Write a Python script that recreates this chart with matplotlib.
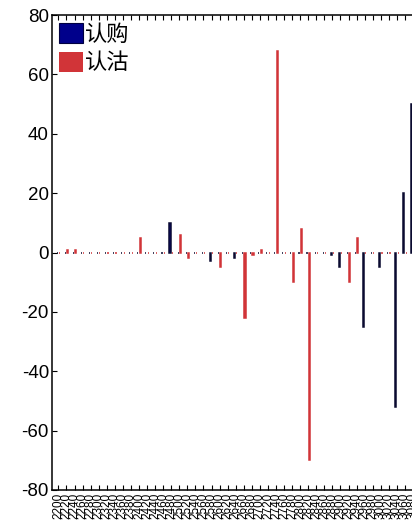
import matplotlib
matplotlib.use("Agg")
import matplotlib.pyplot as plt
import numpy as np

plt.rcParams['font.family'] = ['Liberation Sans', 'Noto Sans CJK SC', 'DejaVu Sans']
plt.rcParams['axes.unicode_minus'] = False

############## Daten ##############
strikes = ["2200", "2220", "2240", "2260", "2280", "2300", "2320", "2340", "2360", "2380",
           "2400", "2420", "2440", "2460", "2480", "2500", "2520", "2540", "2560", "2580",
           "2600", "2620", "2640", "2660", "2680", "2700", "2720", "2740", "2760", "2780",
           "2800", "2820", "2840", "2860", "2880", "2900", "2920", "2940", "2960", "2980",
           "3000", "3020", "3040", "3060", "3080"]
call_chg = [0, 0, 0, 0, 0, 0, 0, 0, 0, 0,
            0, 0, 0, 0, 10, 0, 0, 0, 0, -3,
            0, 0, -2, 0, 0, 0, 0, 0, 0, 0,
            0, 0, 0, 0, -1, -5, 0, 0, -25, 0,
            -5, 0, -52, 20, 50]
put_chg = [0, 1, 1, 0, 0, 0, 0, 0, 0, 0,
           5, 0, 0, 0, 0, 6, -2, 0, 0, 0,
           -5, 0, 0, -22, -1, 1, 0, 68, 0, -10,
           8, -70, 0, 0, 0, 0, -10, 5, 0, 0,
           0, 0, 0, 0, 0]

call_color = "#00008b"
put_color = "#d13438"

############## Zeichnen ##############
fig = plt.figure(figsize=(4.12, 5.21), dpi=100)
ax = fig.add_axes([51.7 / 412, 31 / 521, 368 / 412, 475 / 521])

x = np.arange(len(strikes))
ax.bar(x - 0.15, call_chg, 0.14, color=call_color, edgecolor="#0a0a30", linewidth=1.1, label="认购")
ax.bar(x + 0.15, put_chg, 0.14, color=put_color, edgecolor=put_color, linewidth=1.1, label="认沽")

ax.set_xlim(-0.83, len(strikes) - 1 + 0.83)
ax.set_ylim(-80, 80)
ax.set_yticks(range(-80, 81, 20))
ax.set_xticks(x)
ax.set_xticklabels(strikes, rotation=90, fontsize=8.5)
ax.tick_params(axis="y", labelsize=13.5)
ax.tick_params(direction="in", top=True, right=True, length=3.5, width=0.8, pad=2)
for sp in ax.spines.values():
    sp.set_linewidth(1.1)

leg = ax.legend(loc="upper left", frameon=False, prop={"family": ["Noto Sans CJK SC"], "size": 16},
                handlelength=1.05, handleheight=1.0, handletextpad=0.12, labelspacing=0.25,
                borderpad=0.15, borderaxespad=0.2)
leg.legend_handles[0].set_edgecolor("#000040")
leg.legend_handles[0].set_linewidth(0.8)
leg.legend_handles[1].set_linewidth(0)

plt.savefig("out.png", dpi=100)
